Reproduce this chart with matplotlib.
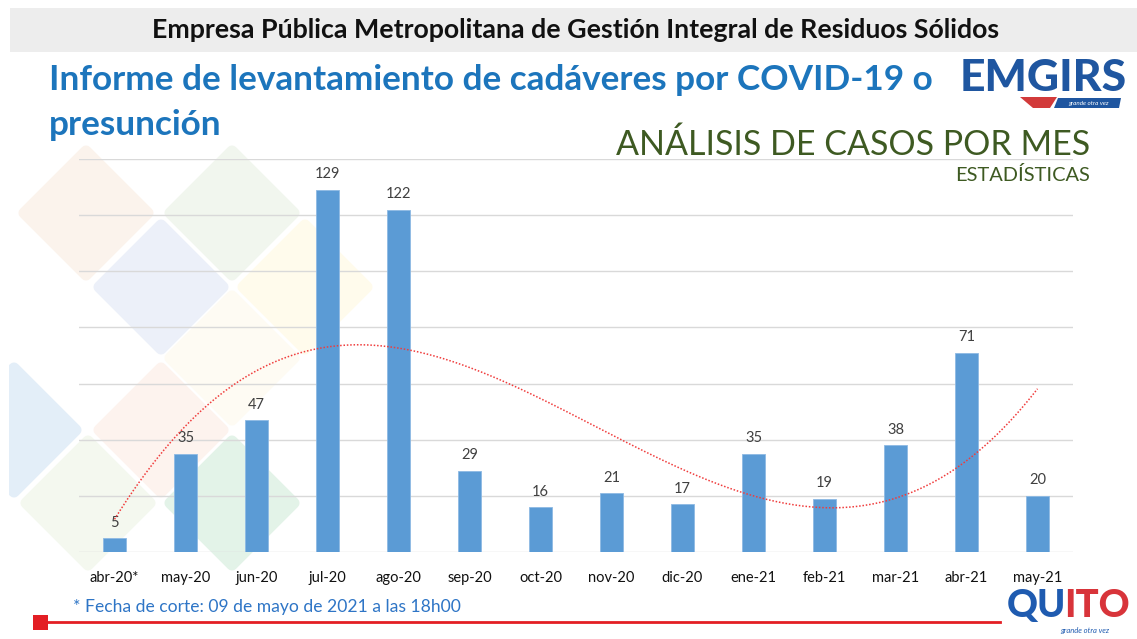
import numpy as np
import matplotlib.pyplot as plt
from matplotlib.patches import Polygon, Rectangle

plt.rcParams['font.family'] = ['Lato', 'DejaVu Sans']

meses = ['abr-20*', 'may-20', 'jun-20', 'jul-20', 'ago-20', 'sep-20', 'oct-20',
         'nov-20', 'dic-20', 'ene-21', 'feb-21', 'mar-21', 'abr-21', 'may-21']
casos = [5, 35, 47, 129, 122, 29, 16, 21, 17, 35, 19, 38, 71, 20]

W, H = 1137, 639
fig = plt.figure(figsize=(W / 100, H / 100), dpi=100)

# fondo en pixeles
bg = fig.add_axes([0, 0, 1, 1])
bg.set_xlim(0, W)
bg.set_ylim(H, 0)
bg.axis('off')

# rombos decorativos
rombos = [(86, 213, '#FBF3EC'), (232, 213, '#F1F6EE'), (161, 287, '#ECF0F9'),
          (305, 287, '#FFFBEC'), (232, 358, '#FEFBF3'), (161, 430, '#FDF3EE'),
          (14, 430, '#E3EEF8'), (88, 503, '#F4F8EF'), (232, 503, '#E3F3E8')]
for cx, cy, col in rombos:
    d = 62
    bg.add_patch(Polygon([(cx - d, cy), (cx, cy - d), (cx + d, cy), (cx, cy + d)],
                         closed=True, facecolor=col, edgecolor=col, lw=8,
                         joinstyle='round', zorder=0))
bg.add_patch(Rectangle((0, 360), 9, 200, facecolor='white', edgecolor='none', zorder=0.5))

# cabecera
bg.add_patch(Rectangle((10, 8), W - 10, 44, facecolor='#EDEDED', edgecolor='none'))
bg.text(576, 30, 'Empresa Pública Metropolitana de Gestión Integral de Residuos Sólidos',
        ha='center', va='center', fontsize=19.3, fontweight='bold', color='#111111')
bg.text(49, 80, 'Informe de levantamiento de cadáveres por COVID-19 o',
        ha='left', va='center', fontsize=25.3, fontweight='bold', color='#1C75BC')
bg.text(49, 125, 'presunción', ha='left', va='center', fontsize=25.3,
        fontweight='bold', color='#1C75BC')
bg.text(1090, 145, 'ANÁLISIS DE CASOS POR MES', ha='right', va='center',
        fontsize=24.5, color='#3E5A22')
bg.text(1090, 175, 'ESTADÍSTICAS', ha='right', va='center', fontsize=14.4,
        color='#3E5A22')

# logo EMGIRS
bg.text(1043, 78, 'EMGIRS', ha='center', va='center', fontsize=32,
        fontweight='black', color='#1F56A0')
bg.add_patch(Polygon([(1020, 97), (1057, 97), (1050, 108), (1033, 108)],
                     closed=True, facecolor='#D23A3A', edgecolor='none'))
bg.add_patch(Polygon([(1058, 98), (1121, 98), (1119, 108), (1054, 108)],
                     closed=True, facecolor='#1F56A0', edgecolor='none'))
bg.text(1088, 103, 'grande otra vez', ha='center', va='center', fontsize=4.5,
        style='italic', color='white')

# pie
bg.text(73, 607, '* Fecha de corte: 09 de mayo de 2021 a las 18h00', ha='left',
        va='center', fontsize=12.6, color='#2E75C6')
bg.plot([40, 1000], [622, 622], color='#E31E24', lw=2)
bg.add_patch(Rectangle((33, 615), 15, 15, facecolor='#E31E24', edgecolor='none'))

# logo QUITO
bg.text(1066, 606, 'QU', ha='right', va='center', fontsize=27.5,
        fontweight='black', color='#1F5BB0')
bg.text(1064, 606, 'ITO', ha='left', va='center', fontsize=27.5,
        fontweight='black', color='#D8343A')
bg.text(1085, 631, 'grande otra vez', ha='center', va='center', fontsize=5.5,
        style='italic', color='#1F5BB0')

# grafico
ax = fig.add_axes([79 / W, 1 - 552 / H, (1073 - 79) / W, (552 - 159) / H])
ax.patch.set_alpha(0)
x = np.arange(len(meses))
ax.bar(x, casos, width=0.31, color='#5B9BD5', edgecolor='#8DB9E4',
       linewidth=0.6, zorder=3)
for xi, v in zip(x, casos):
    ax.text(xi, v + 3, str(v), ha='center', va='bottom', fontsize=10.5,
            color='#404040', zorder=4)

# linea de tendencia polinomica (orden 3)
coef = np.polyfit(x, casos, 3)
xs = np.linspace(0, len(meses) - 1, 300)
ax.plot(xs, np.polyval(coef, xs), color='#F03C3C', lw=1.1, ls=(0, (1, 1.2)),
        zorder=5)

ax.set_xlim(-0.5, len(meses) - 0.5)
ax.set_ylim(0, 140)
ax.set_yticks(np.arange(0, 141, 20))
ax.yaxis.grid(True, color='#D9D9D9', lw=1, zorder=0)
ax.set_axisbelow(True)
ax.tick_params(axis='y', left=False, labelleft=False)
ax.tick_params(axis='x', length=0, pad=14, labelsize=10.5, labelcolor='#111111')
ax.set_xticks(x)
ax.set_xticklabels(meses)
for s in ax.spines.values():
    s.set_visible(False)

fig.savefig('out.png', dpi=100)
